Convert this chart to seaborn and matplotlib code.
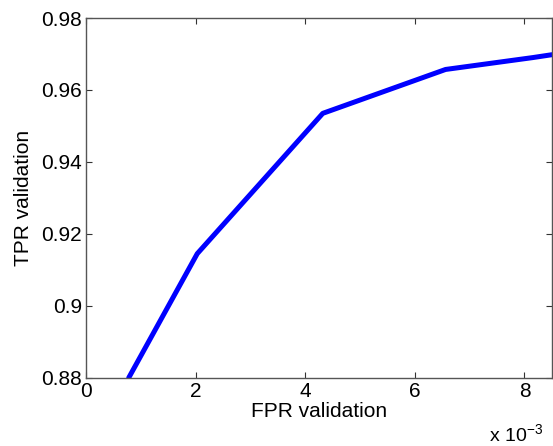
import matplotlib
matplotlib.use("Agg")
import matplotlib.pyplot as plt
import matplotlib.ticker as mticker
import seaborn as sns
import pandas as pd

fpr = [0.00078, 0.00203, 0.00432, 0.00656, 0.00815, 0.0085]
tpr = [0.8800, 0.9145, 0.9535, 0.9657, 0.9690, 0.9698]
xticks = [0, 0.002, 0.004, 0.006, 0.008]
yticks = [0.88, 0.90, 0.92, 0.94, 0.96, 0.98]

sns.set_style("ticks")
plt.rcParams['font.family'] = ['Liberation Sans', 'DejaVu Sans']
plt.rcParams['text.color'] = 'black'
plt.rcParams['axes.labelcolor'] = 'black'
plt.rcParams['xtick.color'] = 'black'
plt.rcParams['ytick.color'] = 'black'

df = pd.DataFrame({"FPR validation": fpr, "TPR validation": tpr})

fig = plt.figure(figsize=(5.53, 4.46), dpi=100)
ax = fig.add_axes([0.1555, 0.153, 0.8425, 0.8066])
sns.lineplot(data=df, x="FPR validation", y="TPR validation", ax=ax,
             color=(0, 0, 1), linewidth=3.6, sort=False)

ax.set_xlim(0, 0.0085)
ax.set_ylim(0.88, 0.98)
ax.set_xticks(xticks)
ax.set_yticks(yticks)
ax.xaxis.set_major_formatter(mticker.FuncFormatter(lambda v, p: "%g" % round(v * 1000, 6)))
ax.yaxis.set_major_formatter(mticker.FuncFormatter(lambda v, p: "%g" % round(v, 6)))
ax.tick_params(direction="in", length=4, width=0.8, color="#333333",
               labelsize=15, labelcolor="black", top=True, right=True, pad=3)
for s in ax.spines.values():
    s.set_color("#555555")
    s.set_linewidth(1.0)
ax.set_xlabel("FPR validation", fontsize=15, labelpad=1, color="black")
ax.set_ylabel("TPR validation", fontsize=15, labelpad=6, color="black")
fig.text(0.885, 0.008, r"x 10$^{\mathregular{-3}}$", fontsize=14, ha="left",
         va="baseline", color="black")

fig.savefig("out.png", dpi=100)
